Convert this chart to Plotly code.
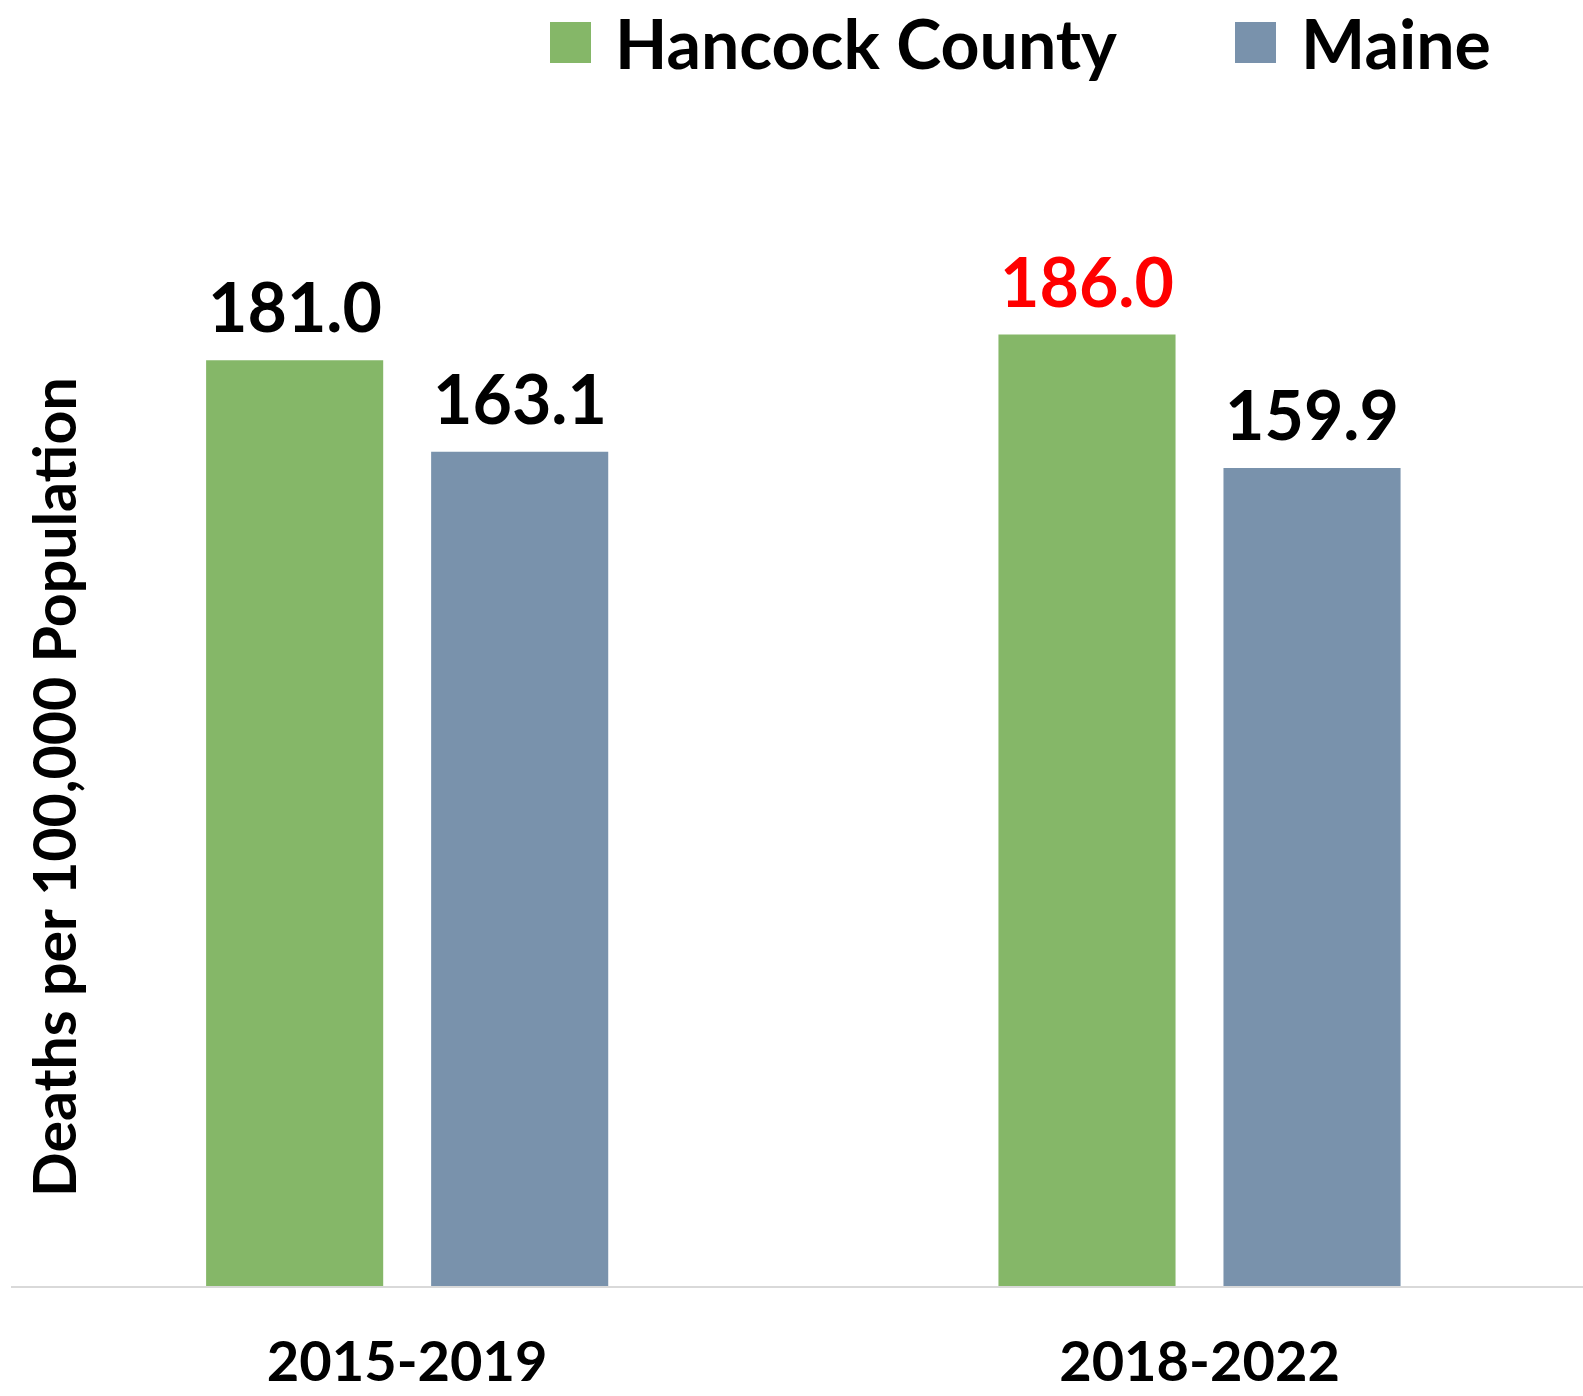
import plotly.graph_objects as go

periods = ["2015-2019", "2018-2022"]
hancock = [181.0, 186.0]
maine = [163.1, 159.9]
series_names = ["Hancock County", "Maine"]
label_colors_hancock = ["#000000", "#FF0000"]
label_colors_maine = ["#000000", "#000000"]

GREEN = "#85B768"
BLUE = "#7992AC"
FONT = "Lato, Carlito, Calibri, sans-serif"

W, H = 1583, 1396
ML, MR, MT, MB = 11, 0, 263, 110
PW, PH = W - ML - MR, H - MT - MB


def px_x(x):
    return (x - ML) / PW


def px_y(y):
    return (H - MB - y) / PH


fig = go.Figure()
fig.add_trace(go.Bar(x=periods, y=hancock, name=series_names[0],
                     marker=dict(color=GREEN, line=dict(width=0))))
fig.add_trace(go.Bar(x=periods, y=maine, name=series_names[1],
                     marker=dict(color=BLUE, line=dict(width=0))))

annotations = []
for vals, colors, off in ((hancock, label_colors_hancock, -0.25),
                          (maine, label_colors_maine, 0.25)):
    for i, (p, v) in enumerate(zip(periods, vals)):
        annotations.append(dict(
            x=i + off * 0.568, y=v, xref="x", yref="y",
            text=f"{v:.1f}", showarrow=False, yanchor="bottom",
            xanchor="center", yshift=12,
            font=dict(family=FONT, size=68, color=colors[i], weight="bold")))

# y-axis title
annotations.append(dict(
    x=px_x(53), y=px_y(787), xref="paper", yref="paper",
    text="Deaths per 100,000 Population", textangle=-90, showarrow=False,
    xanchor="center", yanchor="middle",
    font=dict(family=FONT, size=59, color="#000000", weight="bold")))

# legend
shapes = []
legend_items = [(series_names[0], GREEN, 550, 613), (series_names[1], BLUE, 1235, 1299)]
for name, color, sq_x, txt_x in legend_items:
    shapes.append(dict(type="rect", xref="paper", yref="paper",
                       x0=px_x(sq_x), x1=px_x(sq_x + 41),
                       y0=px_y(63), y1=px_y(22),
                       fillcolor=color, line=dict(width=0)))
    annotations.append(dict(
        x=px_x(txt_x), y=px_y(43), xref="paper", yref="paper",
        text=name, showarrow=False, xanchor="left", yanchor="middle",
        font=dict(family=FONT, size=68, color="#000000", weight="bold")))

fig.update_layout(
    width=W, height=H,
    margin=dict(l=ML, r=MR, t=MT, b=MB, pad=0, autoexpand=False),
    paper_bgcolor="white", plot_bgcolor="white",
    barmode="group", bargap=0.432, bargroupgap=0.213,
    showlegend=False,
    annotations=annotations, shapes=shapes,
    xaxis=dict(type="category", range=[-0.5, 1.484], showgrid=False,
               showline=True, linecolor="#D9D9D9", linewidth=2,
               ticks="", ticklabelstandoff=26, automargin=False,
               tickfont=dict(family=FONT, size=56, color="#000000", weight="bold")),
    yaxis=dict(range=[0, 200], showgrid=False, showline=False, automargin=False,
               showticklabels=False, ticks="", zeroline=False),
)

fig.write_html("out.html")
